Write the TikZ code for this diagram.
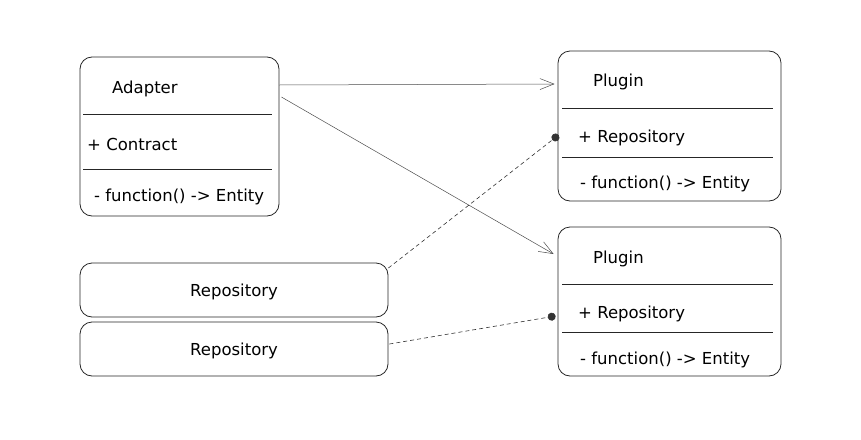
\documentclass[tikz,border=0pt]{standalone}
\usepackage{fontspec}
\setmainfont{DejaVu Sans}
\usetikzlibrary{arrows.meta}

\begin{document}
\begin{tikzpicture}[x=1pt,y=-1pt,
        box/.style={draw=black!85, rounded corners=12pt, line width=0.8pt, inner sep=0pt},
        txt/.style={font=\fontsize{16.5}{19}\selectfont, inner sep=0pt, anchor=west},
        sep/.style={draw=black!85, line width=0.8pt},
        uses/.style={draw=black!70, line width=0.5pt, -{Straight Barb[length=14pt,width=11pt]}},
        holds/.style={draw=black!80, line width=0.6pt, dashed, dash pattern=on 4pt off 3pt, -{Circle[length=8pt]}}]
    \useasboundingbox (0,0) rectangle (861,439);
    % classes
    \node[box, minimum width=199pt, minimum height=159pt] (adapter) at (179.5,136.5) {};
    \node[box, minimum width=223pt, minimum height=150pt] (plugA) at (669.5,126) {};
    \node[box, minimum width=223pt, minimum height=149pt] (plugB) at (669.5,301.5) {};
    \node[box, minimum width=308pt, minimum height=54pt] (repoA) at (234,290) {};
    \node[box, minimum width=308pt, minimum height=54pt] (repoB) at (234,349) {};
    %
    \draw[sep] (83,114) -- (272,114);
    \draw[sep] (83,169) -- (272,169);
    \draw[sep] (562,108) -- (773,108);
    \draw[sep] (562,157) -- (773,157);
    \draw[sep] (562,284) -- (773,284);
    \draw[sep] (562,332) -- (773,332);
    % texts
    \node[txt] (adapterT) at (112,89) {Adapter};
    \node[txt] (adapterC) at (87,144) {+ Contract};
    \node[txt] (adapterF) at (94,197) {- function() -> Entity};
    \node[txt] (plugAT) at (593,82) {Plugin};
    \node[txt] (plugAR) at (578,138) {+ Repository};
    \node[txt] (plugAF) at (580,184) {- function() -> Entity};
    \node[txt] (plugBT) at (593,259) {Plugin};
    \node[txt] (plugBR) at (578,314) {+ Repository};
    \node[txt] (plugBF) at (580,360) {- function() -> Entity};
    \node[txt, anchor=center] (repoAT) at ([yshift=-2pt]repoA.center) {Repository};
    \node[txt, anchor=center] (repoBT) at ([yshift=-2pt]repoB.center) {Repository};
    % connectors
    \draw[uses] (adapter.east |- 0,85) -- ([xshift=-3pt]plugA.west |- 0,84);
    \draw[uses] ([xshift=2pt]adapter.east |- 0,97) -- ([xshift=-4pt]plugB.west |- 0,254);
    \draw[holds] (repoA.east |- 0,268) -- ([xshift=1pt]plugA.west |- 0,135);
    \draw[holds] ([xshift=1pt]repoB.east |- 0,344) -- ([xshift=-2pt]plugB.west |- 0,316);
\end{tikzpicture}
\end{document}
